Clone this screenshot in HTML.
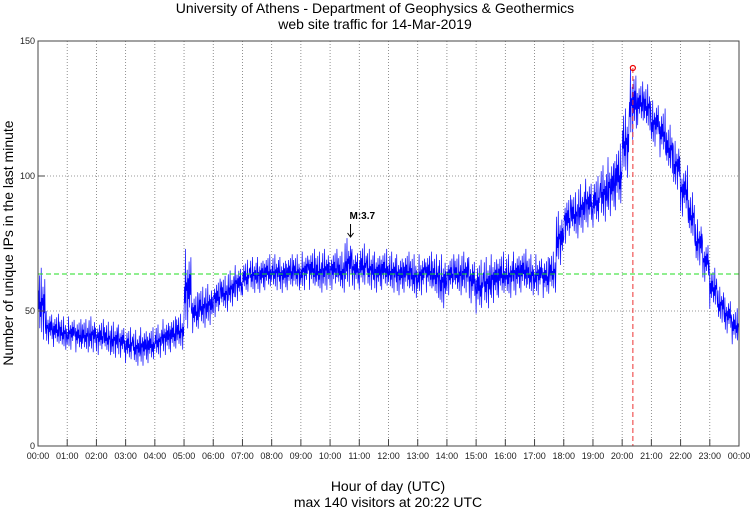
<!DOCTYPE html>
<html><head><meta charset="utf-8"><style>
body{margin:0;background:#fff;}
svg{display:block;font-family:"Liberation Sans",sans-serif;}
</style></head><body>
<svg id="chart" width="750" height="511">
<text x="375" y="13" text-anchor="middle" font-size="14">University of Athens - Department of Geophysics &amp; Geothermics</text>
<text x="375" y="29" text-anchor="middle" font-size="14">web site traffic for 14-Mar-2019</text>
<g id="grid"></g>
<g id="series"></g>
<g id="axes"></g>
<text transform="translate(13,243) rotate(-90)" text-anchor="middle" font-size="14">Number of unique IPs in the last minute</text>
<text x="388" y="491" text-anchor="middle" font-size="14">Hour of day (UTC)</text>
<text x="388" y="507" text-anchor="middle" font-size="14">max 140 visitors at 20:22 UTC</text>
</svg>
<script>
const yTicks=[0,50,100,150];
const xTickLabels=["00:00","01:00","02:00","03:00","04:00","05:00","06:00","07:00","08:00","09:00","10:00","11:00","12:00","13:00","14:00","15:00","16:00","17:00","18:00","19:00","20:00","21:00","22:00","23:00","00:00"];
const blockLo=[38,37,36,35,35,34,34,34,33,33,32,32,30,29,29,30,32,33,34,35,42,41,43,44,47,49,51,53,55,56,56,57,57,56,57,57,57,57,56,57,57,56,58,57,57,57,56,57,56,55,56,54,55,56,54,50,55,55,56,52,48,50,52,54,54,55,56,55,55,54,56,66,74,76,78,80,80,82,84,86,98,112,118,116,110,106,100,94,84,75,66,60,50,45,41,37];
const blockHi=[66,50,49,48,48,47,47,48,47,46,46,45,44,43,44,44,45,47,48,49,73,57,59,60,62,63,65,67,69,70,70,71,71,70,71,71,72,73,72,73,73,72,77,73,75,73,72,73,72,71,72,71,71,72,71,71,71,71,72,70,69,70,71,72,71,72,73,71,71,70,72,87,93,94,97,99,100,104,107,112,125,140,135,134,128,125,119,113,104,94,84,76,66,59,55,51];
const avgLine=[63.7];
const peak={hour:20+22/60,value:140};
const quake={hour:10+42/60,label:"M:3.7"};
const NS="http://www.w3.org/2000/svg";
const L=38,R=739,T=41,B=446;
const xs=h=>L+(R-L)*h/24, ys=v=>B-(B-T)*v/150;
function mk(tag,attrs,parent){const e=document.createElementNS(NS,tag);for(const k in attrs)e.setAttribute(k,attrs[k]);parent.appendChild(e);return e;}
const grid=document.getElementById('grid'),axes=document.getElementById('axes'),ser=document.getElementById('series');
xTickLabels.forEach((lab,i)=>{
  const x=xs(i);
  if(i>0&&i<24){const g=mk('line',{x1:x,x2:x,y1:T,y2:B,stroke:'#777','stroke-width':0.8,'stroke-dasharray':'1,2'},grid);
  
  }
  const t=mk('line',{x1:x,x2:x,y1:B,y2:B-7,stroke:'#444'},axes);
  
  
  const tx=mk('text',{x:x,y:B+13,'text-anchor':'middle','font-size':9,fill:'#222'},axes);tx.textContent=lab;
  
  
});
yTicks.forEach(v=>{
  const y=ys(v);
  if(v>0&&v<150){const g=mk('line',{x1:L,x2:R,y1:y,y2:y,stroke:'#777','stroke-width':0.8,'stroke-dasharray':'1,2'},grid);
  
  }
  const t=mk('line',{x1:L,x2:L+7,y1:y,y2:y,stroke:'#444'},axes);
  
  
  const tx=mk('text',{x:L-3,y:y+3,'text-anchor':'end','font-size':9,fill:'#222'},axes);tx.textContent=v;
  
  
});
const frame=mk('rect',{x:L,y:T,width:R-L,height:B-T,fill:'none',stroke:'#444','stroke-width':1},axes);


const pat=[0.3,0.7,0.45,0.9,0.2,0.55,0.35,1,0.15,0.6,0.5,0.75,0.05,0.65,0.4,0.85];
let pts=[];const n=blockLo.length,steps=pat.length;
for(let b=0;b<n;b++){for(let k=0;k<steps;k++){const h=(b+k/steps)*24/n;const v=blockLo[b]+(blockHi[b]-blockLo[b])*pat[(k+b*5)%steps];pts.push(xs(h).toFixed(1)+','+ys(v).toFixed(1));}}
const line=mk('polyline',{points:pts.join(' '),fill:'none',stroke:'#0000ff','stroke-width':0.7},ser);


const avg=mk('line',{x1:L,x2:R,y1:ys(avgLine[0]),y2:ys(avgLine[0]),stroke:'#22dd22','stroke-width':1,'stroke-dasharray':'5,3'},ser);


const pl=mk('line',{x1:xs(peak.hour),x2:xs(peak.hour),y1:ys(peak.value),y2:B,stroke:'#ee3333','stroke-width':1,'stroke-dasharray':'5,3'},ser);


const pc=mk('circle',{cx:xs(peak.hour),cy:ys(peak.value),r:2.5,fill:'none',stroke:'#ee0000','stroke-width':1.2},ser);


const qx=xs(quake.hour);
const qa=mk('path',{d:`M${qx},${224} L${qx},${237} M${qx-3},${233} L${qx},${237} L${qx+3},${233}`,stroke:'#000','stroke-width':1,fill:'none'},ser);


const qt=mk('text',{x:qx-1,y:219,'font-size':10,'font-weight':'bold'},ser);qt.textContent=quake.label;


</script>
</body></html>
